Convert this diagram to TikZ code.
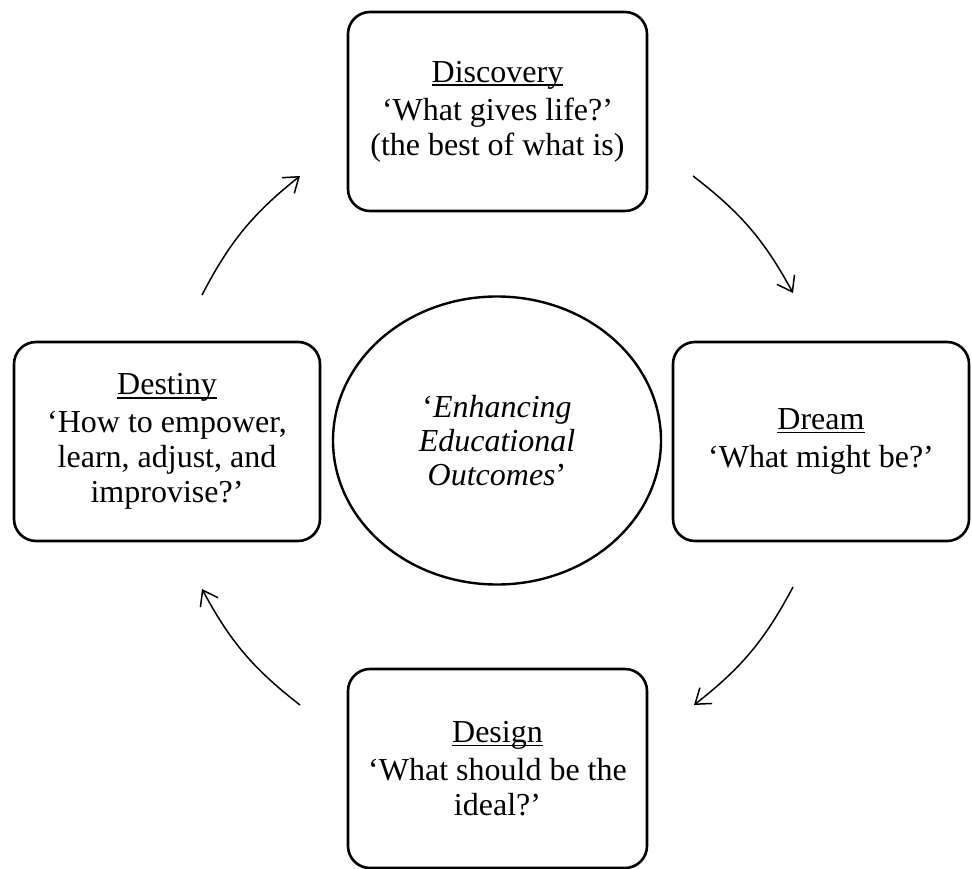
\documentclass[tikz,border=0pt]{standalone}
\usepackage{fontspec}
\setmainfont{Liberation Serif}
\usetikzlibrary{arrows.meta,shapes.geometric}
\newcommand\myul[1]{\setbox0\hbox{#1}\rlap{\rule[-0.12em]{\wd0}{0.05em}}\box0}
\tikzset{
  phasebox/.style={draw, line width=2.6pt, rounded corners=22pt, align=center,
    font=\fontsize{32}{35}\selectfont, inner sep=0pt},
  hubellipse/.style={draw, ellipse, line width=2.4pt, align=center, inner sep=0pt,
    font=\fontsize{32}{34}\selectfont},
  cyclearrow/.style={line width=1.5pt, -{Straight Barb[length=14pt,width=20pt,line width=1.5pt]}, bend left=12}
}
\begin{document}
\begin{tikzpicture}[x=1pt,y=-1pt]
\useasboundingbox (0,0) rectangle (972,869);
\fill[white] (0,0) rectangle (972,869);
\node[phasebox, minimum width=299pt, minimum height=199pt] (discovery) at (497.5,111.5)
  {\myul{Discovery}\\[3pt] ‘What gives life?’\\ (the best of what is)};
\node[phasebox, minimum width=296pt, minimum height=199pt] (dream) at (821,441.5)
  {\myul{Dream}\\[3pt] ‘What might be?’};
\node[phasebox, minimum width=299pt, minimum height=199pt] (design) at (497.5,768.5)
  {\myul{Design}\\[3pt] ‘What should be the\\ ideal?’};
\node[phasebox, minimum width=306pt, minimum height=199pt] (destiny) at (167,441.5)
  {\myul{Destiny}\\[3pt] ‘How to empower,\\ learn, adjust, and\\ improvise?’};
\node[hubellipse, minimum width=328pt, minimum height=288pt] (hub) at (497,440.5)
  {‘\textit{Enhancing}\\ \textit{Educational}\\ \textit{Outcomes}’};
\coordinate (a1s) at (202,295); \coordinate (a1e) at (300,176);
\coordinate (a2s) at (693,176); \coordinate (a2e) at (793,293);
\coordinate (a3s) at (793,587); \coordinate (a3e) at (694,705);
\coordinate (a4s) at (300,705); \coordinate (a4e) at (202,589);
\draw[cyclearrow] (a1s) to (a1e);
\draw[cyclearrow] (a2s) to (a2e);
\draw[cyclearrow] (a3s) to (a3e);
\draw[cyclearrow] (a4s) to (a4e);
\end{tikzpicture}
\end{document}
